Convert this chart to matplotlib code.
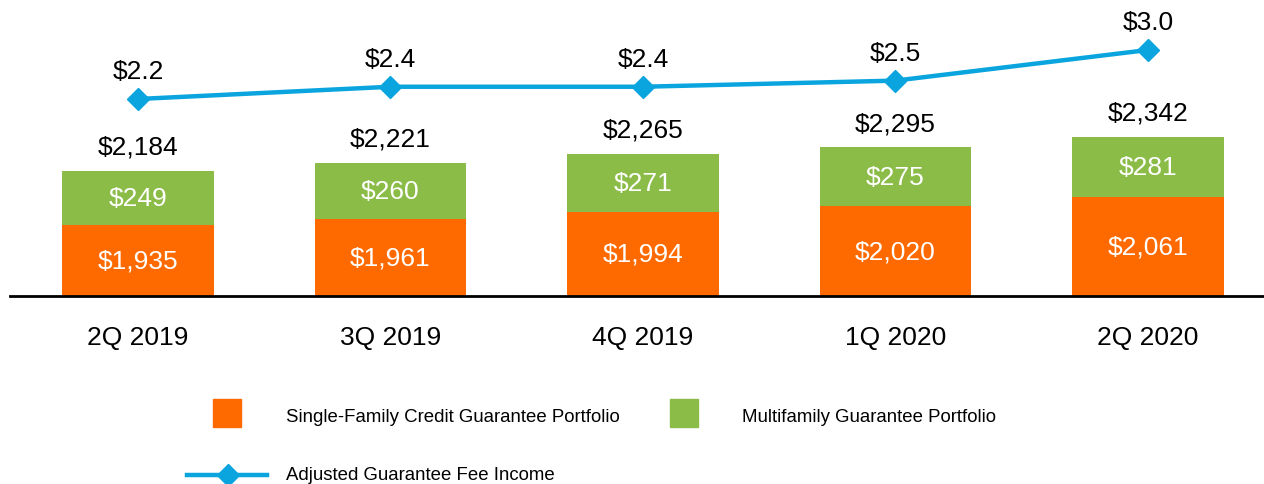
import matplotlib
matplotlib.use('Agg')
import matplotlib.pyplot as plt
from matplotlib.patches import Rectangle
from matplotlib.lines import Line2D

plt.rcParams['font.family'] = ['Liberation Sans', 'DejaVu Sans']

quarters = ['2Q 2019', '3Q 2019', '4Q 2019', '1Q 2020', '2Q 2020']
single_family = [1935, 1961, 1994, 2020, 2061]
multifamily = [249, 260, 271, 275, 281]
fee_income = [2.2, 2.4, 2.4, 2.5, 3.0]

orange = '#FF6A00'
green = '#8BBC48'
blue = '#0AA5DE'

fig = plt.figure(figsize=(12.64, 4.85), dpi=100)
ax = fig.add_axes([10 / 1264, 1 - 297 / 485, 1254 / 1264, 297 / 485])
ax2 = ax.twinx()

x = list(range(len(quarters)))
totals = [a + b for a, b in zip(single_family, multifamily)]

ax.bar(x, single_family, width=0.6, color=orange, zorder=2)
ax.bar(x, multifamily, width=0.6, bottom=single_family, color=green, zorder=2)

for i in x:
    ax.text(i, (1603 + single_family[i]) / 2, '${:,}'.format(single_family[i]),
            ha='center', va='center', color='white', fontsize=19)
    ax.text(i, single_family[i] + multifamily[i] / 2, '${:,}'.format(multifamily[i]),
            ha='center', va='center', color='white', fontsize=19)
    ax.annotate('${:,}'.format(totals[i]), (i, totals[i]), xytext=(0, 24),
                textcoords='offset pixels', ha='center', va='center', fontsize=19)

ax.set_ylim(1603, 2983)
ax.set_xlim(-0.507, 4.46)
ax.set_xticks(x)
ax.set_xticklabels(quarters, fontsize=19)
ax.tick_params(axis='x', length=0, pad=21)
ax.set_yticks([])
for s in ['top', 'left', 'right']:
    ax.spines[s].set_visible(False)
ax.spines['bottom'].set_linewidth(2)

ax2.plot(x, fee_income, color=blue, lw=3.2, marker='D', markersize=11, zorder=3)
for i in x:
    ax2.annotate('${:.1f}'.format(fee_income[i]), (i, fee_income[i]), xytext=(0, 28),
                 textcoords='offset pixels', ha='center', va='center', fontsize=19)
ax2.set_ylim(2.2 - 197 / 61.25, 2.2 + 100 / 61.25)
ax2.set_yticks([])
for s in ax2.spines.values():
    s.set_visible(False)

# legend, drawn by hand to keep the original layout
W, H = 1264, 485
fig.patches.append(Rectangle((213 / W, 1 - 428 / H), 28 / W, 28 / H,
                             transform=fig.transFigure, color=orange))
fig.text(286 / W, 1 - 417 / H, 'Single-Family Credit Guarantee Portfolio',
         fontsize=13.4, va='center')
fig.patches.append(Rectangle((670 / W, 1 - 428 / H), 28 / W, 28 / H,
                             transform=fig.transFigure, color=green))
fig.text(742 / W, 1 - 417 / H, 'Multifamily Guarantee Portfolio',
         fontsize=13.4, va='center')
fig.lines.append(Line2D([187 / W, 267 / W], [1 - 476 / H, 1 - 476 / H],
                        transform=fig.transFigure, color=blue, lw=3.2))
fig.lines.append(Line2D([228 / W], [1 - 476 / H], transform=fig.transFigure,
                        color=blue, marker='D', markersize=11))
fig.text(286 / W, 1 - 476 / H, 'Adjusted Guarantee Fee Income',
         fontsize=13.4, va='center')

fig.savefig('out.png', dpi=100)
